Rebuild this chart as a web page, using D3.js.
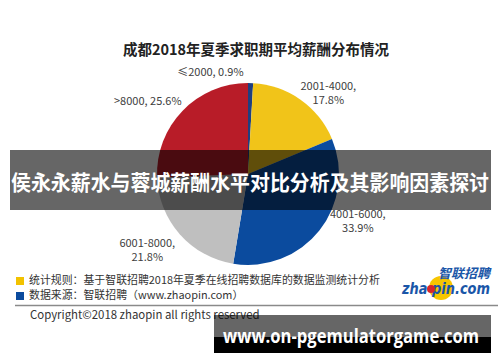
<!DOCTYPE html>
<html>
<head>
<meta charset="utf-8">
<script src="https://cdn.jsdelivr.net/npm/d3@7"></script>
<style>
  html, body { margin: 0; padding: 0; background: #fff; }
  svg { display: block; font-family: "Noto Sans CJK SC", "Noto Sans", sans-serif; }
</style>
</head>
<body>
<div id="chart"></div>
<script>
const title = '成都2018年夏季求职期平均薪酬分布情况';
const categories = ['≤2000', '2001-4000', '4001-6000', '6001-8000', '>8000'];
const shares = [0.9, 17.8, 33.9, 21.8, 25.6];
const sliceColors = ['#1f3f80', '#f1c419', '#0b4b9e', '#bfbfbf', '#b81c28'];
const twoLine = [false, true, true, true, false];
const notes = [
  '统计规则：基于智联招聘2018年夏季在线招聘数据库的数据监测统计分析',
  '数据来源：智联招聘（www.zhaopin.com）'
];
const noteColors = ['#f2c200', '#0b4b9e'];
const bannerText = '侯永永薪水与蓉城薪酬水平对比分析及其影响因素探讨';
const copyright = 'Copyright©2018 zhaopin all rights reserved';
const siteText = 'www.on-pgemulatorgame.com';

// label nudges relative to the outer-arc centroid
const labelNudge = [[-41, 16], [12, 16], [17, -26], [-12, -2], [-15, 9]];

function drawChart(target) {
  const width = 500;
  const height = 362;
  const cx = 248, cy = 174, r = 91;

  const svg = d3.select(target).append('svg')
    .attr('width', width)
    .attr('height', height);

  svg.append('text')
    .attr('x', 256)
    .attr('y', 51)
    .attr('text-anchor', 'middle')
    .attr('dominant-baseline', 'middle')
    .attr('font-size', 14.5)
    .attr('font-weight', 'bold')
    .attr('fill', '#222')
    .text(title);

  const data = categories.map((c, i) => ({ cat: c, value: shares[i], i }));
  const pie = d3.pie().sort(null).value(d => d.value);
  const arcs = pie(data);
  const arc = d3.arc().innerRadius(0).outerRadius(r);
  const outerArc = d3.arc().innerRadius(r * 1.3).outerRadius(r * 1.3);

  const g = svg.append('g').attr('transform', `translate(${cx},${cy})`);

  g.selectAll('path')
    .data(arcs)
    .join('path')
      .attr('d', arc)
      .attr('fill', d => sliceColors[d.data.i]);

  const labels = g.selectAll('text.lbl')
    .data(arcs)
    .join('text')
      .attr('class', 'lbl')
      .attr('text-anchor', 'middle')
      .attr('font-size', 11)
      .attr('fill', '#404040')
      .attr('transform', d => {
        const [x, y] = outerArc.centroid(d);
        const n = labelNudge[d.data.i];
        return `translate(${x + n[0]},${y + n[1]})`;
      });

  labels.each(function(d) {
    const t = d3.select(this);
    if (twoLine[d.data.i]) {
      t.append('tspan').attr('x', 0).attr('y', -7).attr('dy', '0.35em').text(d.data.cat + ',');
      t.append('tspan').attr('x', 0).attr('y', 7).attr('dy', '0.35em').text(d.data.value.toFixed(1) + '%');
    } else {
      t.append('tspan').attr('x', 0).attr('dy', '0.35em')
        .text(d.data.cat + ', ' + d.data.value.toFixed(1) + '%');
    }
  });

  // footnotes
  notes.forEach((n, i) => {
    const y = 281 + i * 15;
    svg.append('rect')
      .attr('x', 16).attr('y', y - 4)
      .attr('width', 8).attr('height', 8)
      .attr('fill', noteColors[i]);
    svg.append('text')
      .attr('x', 29).attr('y', y)
      .attr('dominant-baseline', 'middle')
      .attr('font-size', 10.9)
      .attr('fill', '#333')
      .text(n);
  });

  // zhaopin logo
  const logo = svg.append('g');
  logo.append('circle').attr('cx', 441).attr('cy', 288).attr('r', 12).attr('fill', '#f7c600');
  logo.append('text')
    .attr('x', 464).attr('y', 274)
    .attr('text-anchor', 'middle')
    .attr('dominant-baseline', 'middle')
    .attr('font-size', 13)
    .attr('font-weight', 'bold')
    .attr('font-style', 'italic')
    .attr('fill', '#1a56a8')
    .text('智联招聘');
  logo.append('text')
    .attr('x', 402).attr('y', 294)
    .attr('font-size', 15)
    .attr('font-weight', 'bold')
    .attr('font-style', 'italic')
    .attr('font-family', 'DejaVu Sans')
    .attr('fill', '#1a56a8')
    .attr('textLength', 88)
    .attr('lengthAdjust', 'spacingAndGlyphs')
    .text('zha pin.com');
  logo.append('circle').attr('cx', 431).attr('cy', 289).attr('r', 4).attr('fill', '#d6262b');

  svg.append('line')
    .attr('x1', 15).attr('x2', 498)
    .attr('y1', 305.5).attr('y2', 305.5)
    .attr('stroke', '#8a8a8a')
    .attr('stroke-width', 1.5);

  svg.append('text')
    .attr('x', 30).attr('y', 316)
    .attr('dominant-baseline', 'middle')
    .attr('font-size', 11.4)
    .attr('fill', '#333')
    .text(copyright);

  // overlay banner
  svg.append('rect')
    .attr('x', 10).attr('y', 150)
    .attr('width', 481).attr('height', 60)
    .attr('fill', 'rgba(0,0,0,0.6)');
  svg.append('text')
    .attr('x', 250).attr('y', 184)
    .attr('text-anchor', 'middle')
    .attr('dominant-baseline', 'middle')
    .attr('font-size', 21)
    .attr('font-weight', 'bold')
    .attr('fill', '#fff')
    .attr('textLength', 478)
    .attr('lengthAdjust', 'spacingAndGlyphs')
    .text(bannerText);

  // site box
  svg.append('rect')
    .attr('x', 214).attr('y', 337)
    .attr('width', 277).attr('height', 16)
    .attr('fill', '#000');
  svg.append('rect')
    .attr('x', 214).attr('y', 315)
    .attr('width', 277).attr('height', 22)
    .attr('fill', 'rgba(0,0,0,0.6)');
  svg.append('text')
    .attr('x', 223).attr('y', 343)
    .attr('font-family', 'Open Sans')
    .attr('font-size', 20)
    .attr('font-weight', 'bold')
    .attr('fill', '#fff')
    .attr('textLength', 256)
    .attr('lengthAdjust', 'spacingAndGlyphs')
    .text(siteText);
}

drawChart('#chart');
</script>
</body>
</html>
